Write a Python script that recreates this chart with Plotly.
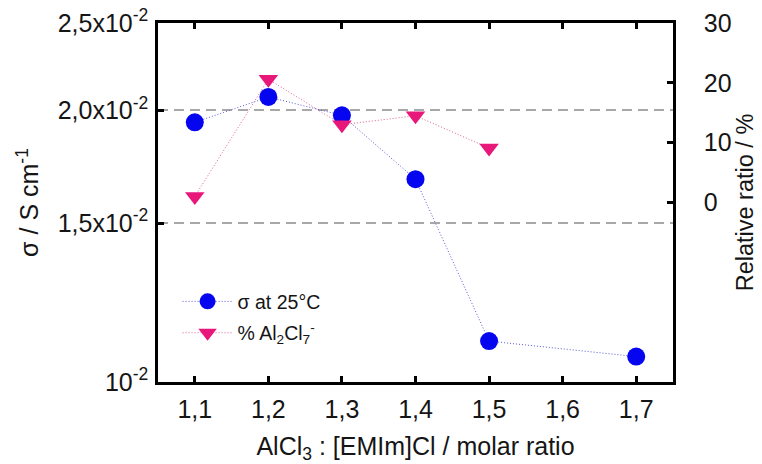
import math
import plotly.graph_objects as go

# AlCl3 : [EMIm]Cl molar ratio
ratio = [1.1, 1.2, 1.3, 1.4, 1.5, 1.7]
# ionic conductivity at 25 °C (S cm^-1)
sigma = [1.94e-2, 2.07e-2, 1.975e-2, 1.678e-2, 1.11e-2, 1.067e-2]

# relative ratio of Al2Cl7- (%)
ratio_al = [1.1, 1.2, 1.3, 1.4, 1.5]
al2cl7 = [1.0, 20.6, 13.0, 14.5, 9.1]

x_ticks = [1.1, 1.2, 1.3, 1.4, 1.5, 1.6, 1.7]
x_ticktext = ["1,1", "1,2", "1,3", "1,4", "1,5", "1,6", "1,7"]
sigma_ticks = [0.01, 0.015, 0.02, 0.025]
sigma_ticktext = ["10<sup>-2</sup>", "1,5x10<sup>-2</sup>",
                  "2,0x10<sup>-2</sup>", "2,5x10<sup>-2</sup>"]
pct_ticks = [0, 10, 20, 30]

BLUE = "#0505F0"
PINK = "#E8177A"
FONT = "Liberation Sans, Arial, sans-serif"
TEXT = "#151515"

fig = go.Figure()

fig.add_trace(go.Scatter(
    x=ratio, y=sigma, name="σ at 25°C", mode="lines+markers",
    line=dict(color="#5A5AD8", width=1, dash="1px,2px"),
    marker=dict(symbol="circle", size=18, color=BLUE, line=dict(width=0)),
    legendgroup="a", yaxis="y",
))
fig.add_trace(go.Scatter(
    x=ratio_al, y=al2cl7, name="% Al<sub>2</sub>Cl<sub>7</sub><sup>-</sup>",
    mode="lines+markers",
    line=dict(color="#E0609A", width=1, dash="1px,2px"),
    marker=dict(symbol="triangle-down", size=17, color=PINK, line=dict(width=0)),
    legendgroup="b", yaxis="y2",
))

axis_common = dict(
    showline=True, linecolor="black", linewidth=2.5,
    ticks="inside", ticklen=6, tickwidth=2.5, tickcolor="black",
    tickfont=dict(family=FONT, size=25, color=TEXT),
    zeroline=False, automargin=False,
)

fig.update_layout(
    width=762, height=464,
    margin=dict(l=158, r=89, t=23, b=82),
    paper_bgcolor="white", plot_bgcolor="white",
    font=dict(family=FONT, size=19, color=TEXT),
    showlegend=True,
    legend=dict(
        x=0.038, y=0.278, xanchor="left", yanchor="top",
        bgcolor="rgba(0,0,0,0)", borderwidth=0,
        font=dict(family=FONT, size=19.5, color=TEXT),
        itemwidth=50, tracegroupgap=3,
    ),
    xaxis=dict(
        range=[1.05, 1.75], tickvals=x_ticks, ticktext=x_ticktext,
        mirror="ticks", showgrid=False, ticklabelstandoff=3,
        title=dict(text="AlCl<sub>3</sub> : [EMIm]Cl / molar ratio",
                   font=dict(family=FONT, size=25, color=TEXT), standoff=25),
        **axis_common,
    ),
    yaxis=dict(
        type="log", range=[-2, math.log10(0.025)],
        tickvals=sigma_ticks, ticktext=sigma_ticktext,
        showgrid=True, gridcolor="#A8A8A8", gridwidth=1.5, griddash="10px,6px",
        ticklabelstandoff=2,
        title=dict(text="σ / S cm<sup>-1</sup>",
                   font=dict(family=FONT, size=25, color=TEXT), standoff=12),
        **axis_common,
    ),
    yaxis2=dict(
        overlaying="y", side="right", range=[-30, 30],
        tickvals=pct_ticks, showgrid=False, ticklabelstandoff=23,
        title=dict(text="Relative ratio / %",
                   font=dict(family=FONT, size=23.5, color=TEXT), standoff=6),
        **axis_common,
    ),
)

fig.write_html("out.html")
